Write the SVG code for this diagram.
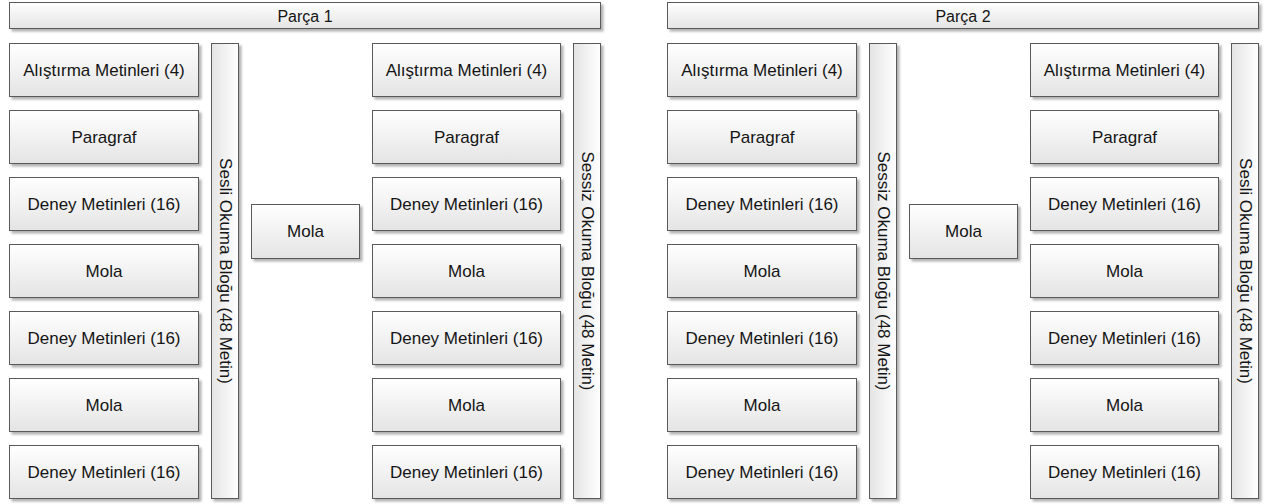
<svg xmlns="http://www.w3.org/2000/svg" width="1264" height="504" viewBox="0 0 1264 504">
  <defs>
    <linearGradient id="gV" x1="0" y1="0" x2="0" y2="1">
      <stop offset="0" stop-color="#ffffff"/>
      <stop offset="1" stop-color="#e4e4e4"/>
    </linearGradient>
    <linearGradient id="gH" x1="1" y1="0" x2="0" y2="0">
      <stop offset="0" stop-color="#ffffff"/>
      <stop offset="1" stop-color="#e4e4e4"/>
    </linearGradient>
    <filter id="sh" x="-10%" y="-10%" width="130%" height="130%">
      <feDropShadow dx="2.5" dy="2.5" stdDeviation="0.8" flood-color="#000" flood-opacity="0.3"/>
    </filter>
  </defs>
  <style>
    .box { fill: url(#gV); stroke: #5a5a5a; stroke-width: 1; filter: url(#sh); }
    .bar { fill: url(#gH); stroke: #5a5a5a; stroke-width: 1; filter: url(#sh); }
    text { font-family: "Liberation Sans", Arial, sans-serif; font-size: 17px; fill: #151515; text-anchor: middle; dominant-baseline: central; }
    .hdr { font-size: 16px; }
  </style>
  <rect width="1264" height="504" fill="#ffffff"/>

  <!-- Part 1 -->
  <g id="parca1-header"><rect class="box" x="9.5" y="2.5" width="591" height="26"/><text class="hdr" x="305" y="16">Parça 1</text></g>

  <g id="p1-a1"><rect class="box" x="9.5" y="43.5" width="189" height="53"/><text x="104" y="70">Alıştırma Metinleri (4)</text></g>
  <g id="p1-a2"><rect class="box" x="9.5" y="110.5" width="189" height="53"/><text x="104" y="137">Paragraf</text></g>
  <g id="p1-a3"><rect class="box" x="9.5" y="177.5" width="189" height="53"/><text x="104" y="204">Deney Metinleri (16)</text></g>
  <g id="p1-a4"><rect class="box" x="9.5" y="244.5" width="189" height="53"/><text x="104" y="271">Mola</text></g>
  <g id="p1-a5"><rect class="box" x="9.5" y="311.5" width="189" height="53"/><text x="104" y="338">Deney Metinleri (16)</text></g>
  <g id="p1-a6"><rect class="box" x="9.5" y="378.5" width="189" height="53"/><text x="104" y="405">Mola</text></g>
  <g id="p1-a7"><rect class="box" x="9.5" y="445.5" width="189" height="53"/><text x="104" y="472">Deney Metinleri (16)</text></g>

  <g id="p1-block1"><rect class="bar" x="211.5" y="43.5" width="27" height="455"/><text transform="translate(225 271) rotate(90)">Sesli Okuma Bloğu (48 Metin)</text></g>

  <g id="p1-break"><rect class="box" x="251.5" y="204.5" width="108" height="54"/><text x="305.5" y="231">Mola</text></g>

  <g id="p1-b1"><rect class="box" x="372.5" y="43.5" width="188" height="53"/><text x="466.5" y="70">Alıştırma Metinleri (4)</text></g>
  <g id="p1-b2"><rect class="box" x="372.5" y="110.5" width="188" height="53"/><text x="466.5" y="137">Paragraf</text></g>
  <g id="p1-b3"><rect class="box" x="372.5" y="177.5" width="188" height="53"/><text x="466.5" y="204">Deney Metinleri (16)</text></g>
  <g id="p1-b4"><rect class="box" x="372.5" y="244.5" width="188" height="53"/><text x="466.5" y="271">Mola</text></g>
  <g id="p1-b5"><rect class="box" x="372.5" y="311.5" width="188" height="53"/><text x="466.5" y="338">Deney Metinleri (16)</text></g>
  <g id="p1-b6"><rect class="box" x="372.5" y="378.5" width="188" height="53"/><text x="466.5" y="405">Mola</text></g>
  <g id="p1-b7"><rect class="box" x="372.5" y="445.5" width="188" height="53"/><text x="466.5" y="472">Deney Metinleri (16)</text></g>

  <g id="p1-block2"><rect class="bar" x="573.5" y="43.5" width="27" height="455"/><text transform="translate(587 271) rotate(90)">Sessiz Okuma Bloğu (48 Metin)</text></g>

  <!-- Part 2 -->
  <g id="parca2-header"><rect class="box" x="667.5" y="2.5" width="591" height="26"/><text class="hdr" x="963" y="16">Parça 2</text></g>

  <g id="p2-a1"><rect class="box" x="667.5" y="43.5" width="189" height="53"/><text x="762" y="70">Alıştırma Metinleri (4)</text></g>
  <g id="p2-a2"><rect class="box" x="667.5" y="110.5" width="189" height="53"/><text x="762" y="137">Paragraf</text></g>
  <g id="p2-a3"><rect class="box" x="667.5" y="177.5" width="189" height="53"/><text x="762" y="204">Deney Metinleri (16)</text></g>
  <g id="p2-a4"><rect class="box" x="667.5" y="244.5" width="189" height="53"/><text x="762" y="271">Mola</text></g>
  <g id="p2-a5"><rect class="box" x="667.5" y="311.5" width="189" height="53"/><text x="762" y="338">Deney Metinleri (16)</text></g>
  <g id="p2-a6"><rect class="box" x="667.5" y="378.5" width="189" height="53"/><text x="762" y="405">Mola</text></g>
  <g id="p2-a7"><rect class="box" x="667.5" y="445.5" width="189" height="53"/><text x="762" y="472">Deney Metinleri (16)</text></g>

  <g id="p2-block1"><rect class="bar" x="869.5" y="43.5" width="27" height="455"/><text transform="translate(883 271) rotate(90)">Sessiz Okuma Bloğu (48 Metin)</text></g>

  <g id="p2-break"><rect class="box" x="909.5" y="204.5" width="108" height="54"/><text x="963.5" y="231">Mola</text></g>

  <g id="p2-b1"><rect class="box" x="1030.5" y="43.5" width="188" height="53"/><text x="1124.5" y="70">Alıştırma Metinleri (4)</text></g>
  <g id="p2-b2"><rect class="box" x="1030.5" y="110.5" width="188" height="53"/><text x="1124.5" y="137">Paragraf</text></g>
  <g id="p2-b3"><rect class="box" x="1030.5" y="177.5" width="188" height="53"/><text x="1124.5" y="204">Deney Metinleri (16)</text></g>
  <g id="p2-b4"><rect class="box" x="1030.5" y="244.5" width="188" height="53"/><text x="1124.5" y="271">Mola</text></g>
  <g id="p2-b5"><rect class="box" x="1030.5" y="311.5" width="188" height="53"/><text x="1124.5" y="338">Deney Metinleri (16)</text></g>
  <g id="p2-b6"><rect class="box" x="1030.5" y="378.5" width="188" height="53"/><text x="1124.5" y="405">Mola</text></g>
  <g id="p2-b7"><rect class="box" x="1030.5" y="445.5" width="188" height="53"/><text x="1124.5" y="472">Deney Metinleri (16)</text></g>

  <g id="p2-block2"><rect class="bar" x="1231.5" y="43.5" width="27" height="455"/><text transform="translate(1245 271) rotate(90)">Sesli Okuma Bloğu (48 Metin)</text></g>

  <g id="connectors"/>
</svg>
